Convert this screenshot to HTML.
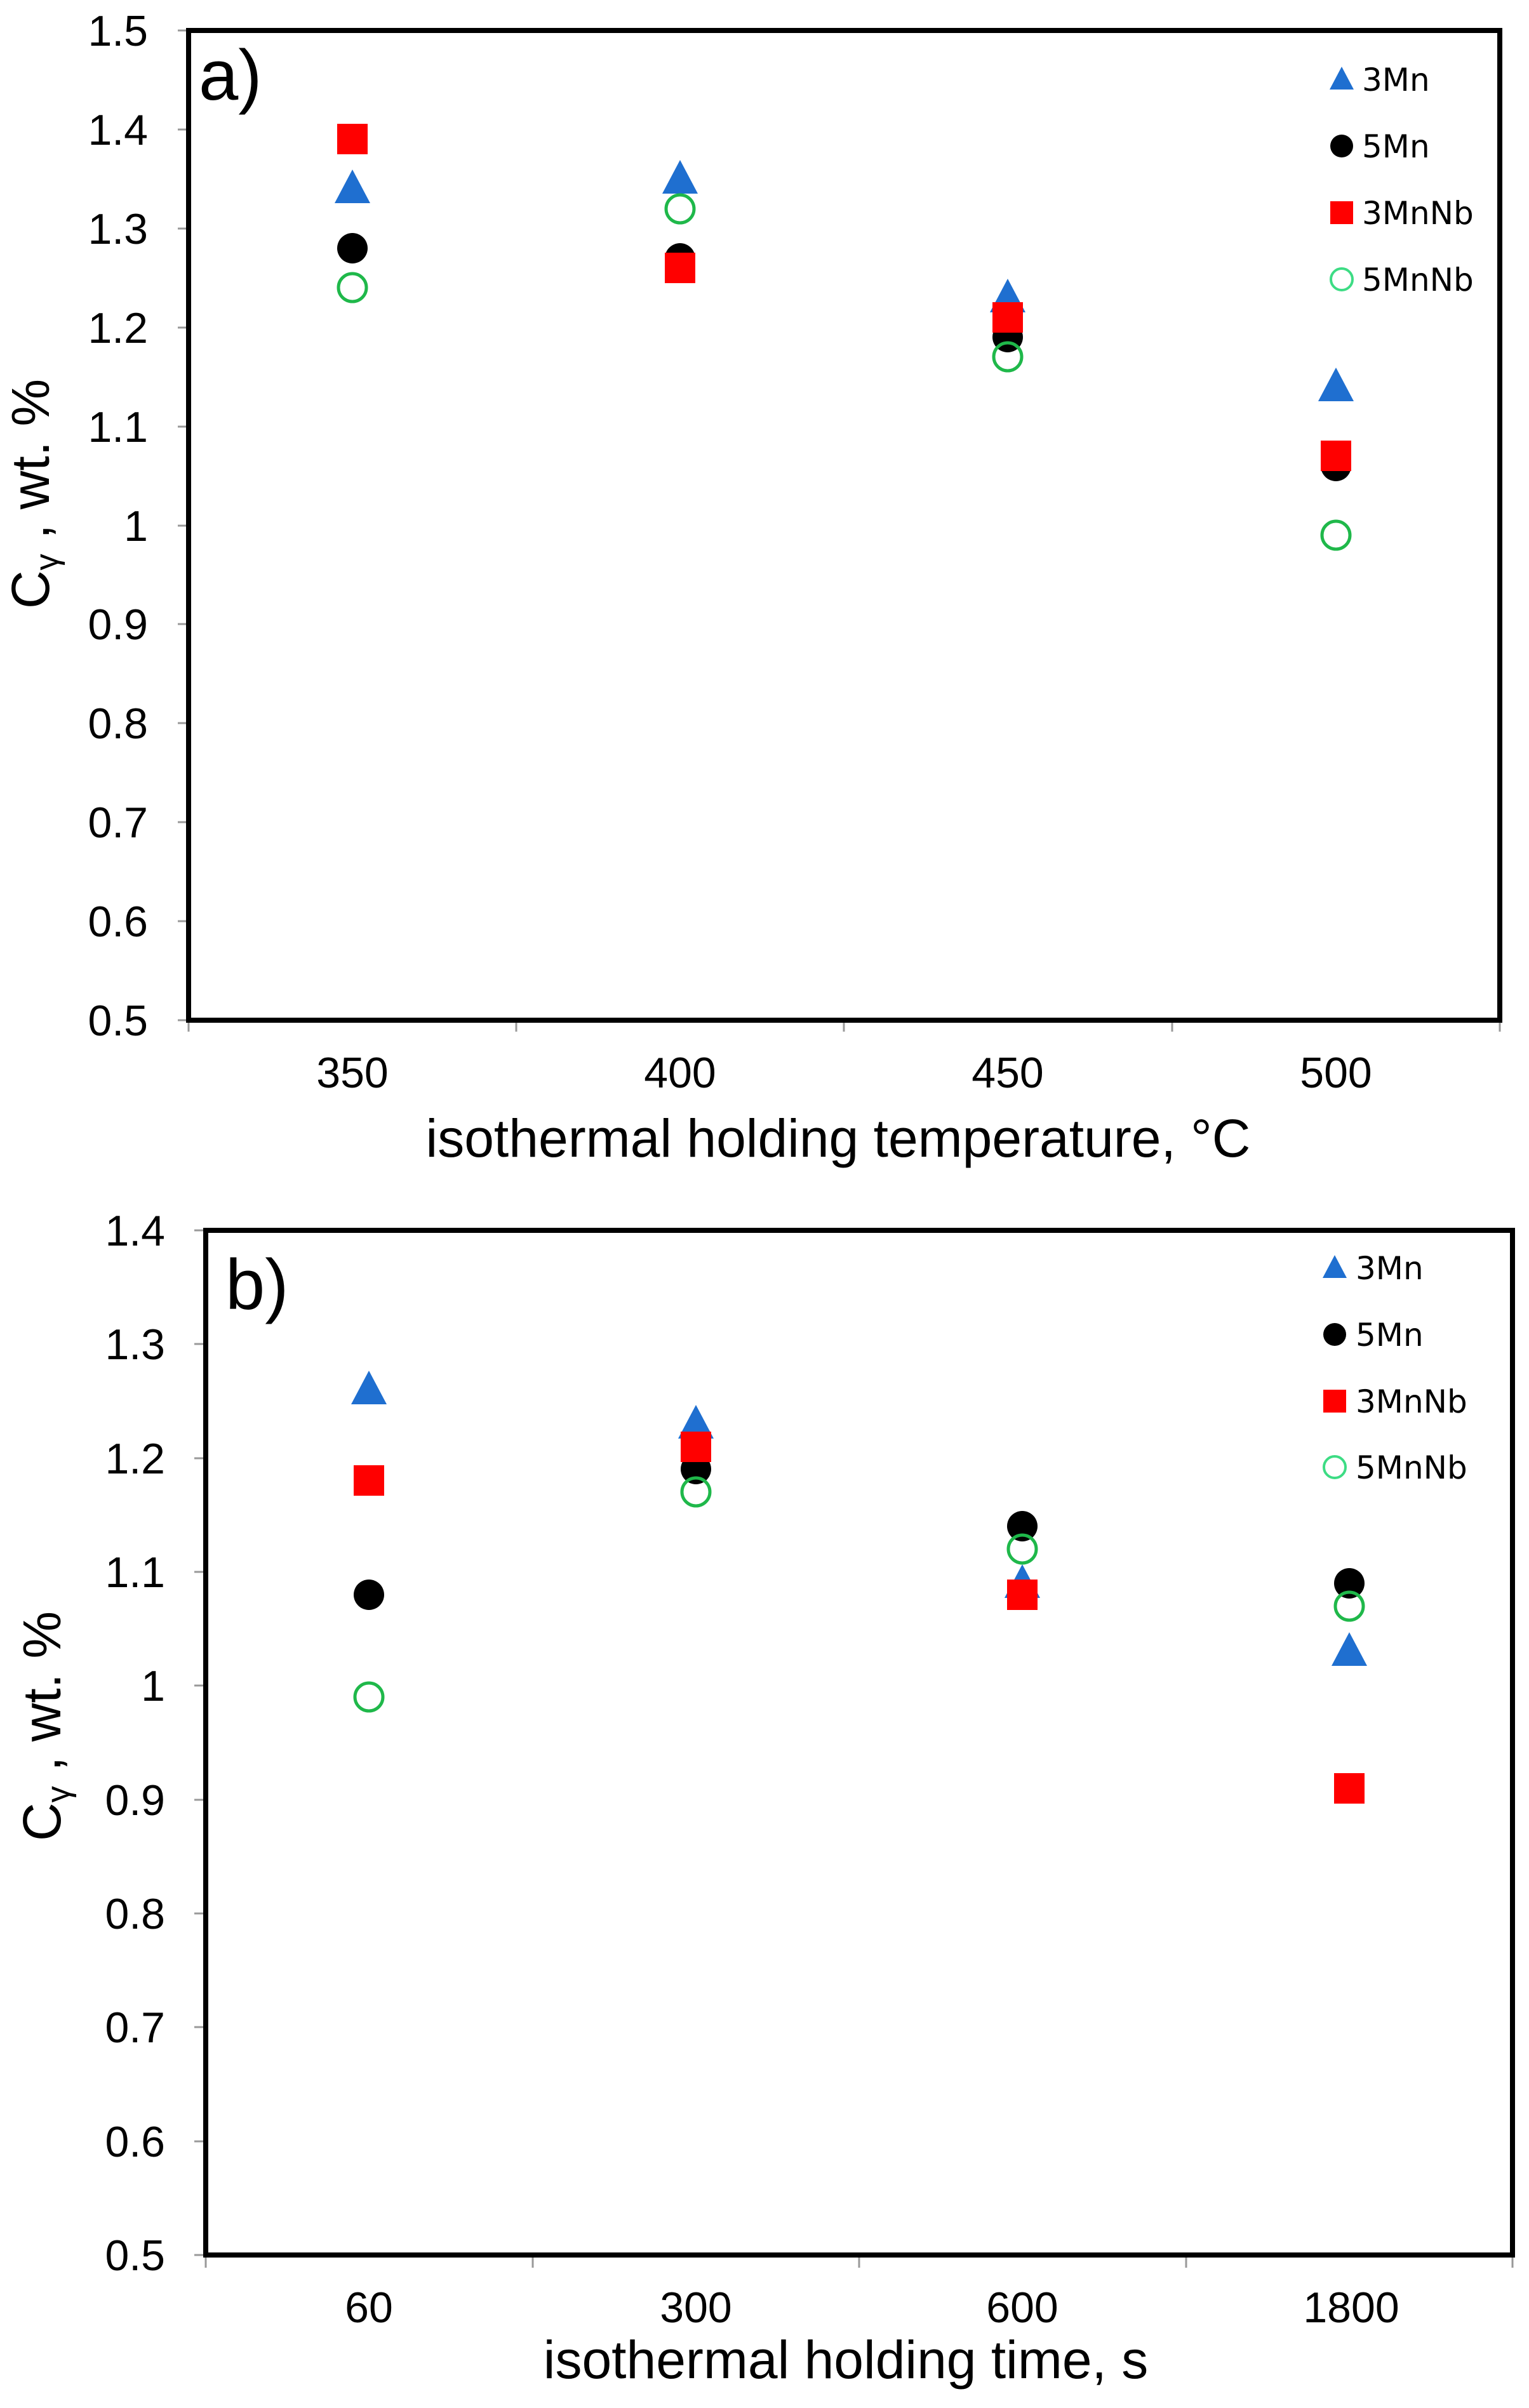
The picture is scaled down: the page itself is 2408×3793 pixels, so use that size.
<!DOCTYPE html>
<html><head><meta charset="utf-8"><style>
html,body{margin:0;padding:0;background:#fff;}
svg{display:block;}
text{font-family:"Liberation Sans",Arial,sans-serif;fill:#000;}
.t{font-size:68px;}
.ti{font-size:84px;}
.lg{font-size:50px;font-family:"DejaVu Sans","Liberation Sans",sans-serif;}
</style></head><body>
<svg width="2408" height="3793" viewBox="0 0 2408 3793" xmlns="http://www.w3.org/2000/svg">
<rect width="2408" height="3793" fill="#fff"/>
<defs>
<path id="tri" d="M0,-30 L28,23 L-28,23 Z" fill="#1f6fd0"/>
<circle id="cir" r="24" fill="#000"/>
<rect id="sq" x="-24" y="-24" width="48" height="48" fill="#ff0000"/>
<circle id="oc" r="22" fill="none" stroke="#1fb84a" stroke-width="5"/>
<path id="ltri" d="M0,-20 L19,16 L-19,16 Z" fill="#1f6fd0"/>
<circle id="lcir" r="18" fill="#000"/>
<rect id="lsq" x="-18" y="-18" width="36" height="36" fill="#ff0000"/>
<circle id="loc" r="17" fill="none" stroke="#3ddc84" stroke-width="4"/>
</defs>

<!-- ===== Chart a ===== -->
<g stroke="#999" stroke-width="3">
<line x1="280" y1="48" x2="297" y2="48"/><line x1="280" y1="204" x2="297" y2="204"/>
<line x1="280" y1="360" x2="297" y2="360"/><line x1="280" y1="516" x2="297" y2="516"/>
<line x1="280" y1="672" x2="297" y2="672"/><line x1="280" y1="828" x2="297" y2="828"/>
<line x1="280" y1="983" x2="297" y2="983"/><line x1="280" y1="1139" x2="297" y2="1139"/>
<line x1="280" y1="1295" x2="297" y2="1295"/><line x1="280" y1="1451" x2="297" y2="1451"/>
<line x1="280" y1="1607" x2="297" y2="1607"/>
<line x1="297" y1="1607" x2="297" y2="1625"/><line x1="813" y1="1607" x2="813" y2="1625"/>
<line x1="1329" y1="1607" x2="1329" y2="1625"/><line x1="1846" y1="1607" x2="1846" y2="1625"/>
<line x1="2362" y1="1607" x2="2362" y2="1625"/>
</g>
<rect x="297" y="48" width="2065" height="1559" fill="none" stroke="#000" stroke-width="8"/>
<g class="t" text-anchor="end">
<text x="233" y="72">1.5</text><text x="233" y="228">1.4</text><text x="233" y="384">1.3</text>
<text x="233" y="540">1.2</text><text x="233" y="696">1.1</text><text x="233" y="852">1</text>
<text x="233" y="1007">0.9</text><text x="233" y="1163">0.8</text><text x="233" y="1319">0.7</text>
<text x="233" y="1475">0.6</text><text x="233" y="1631">0.5</text>
</g>
<g class="t" text-anchor="middle">
<text x="555" y="1713">350</text><text x="1071" y="1713">400</text>
<text x="1587" y="1713">450</text><text x="2104" y="1713">500</text>
</g>
<text class="ti" x="1320" y="1822" text-anchor="middle">isothermal holding temperature, °C</text>
<text class="ti" transform="translate(77,778) rotate(-90)" text-anchor="middle">C<tspan font-size="52" dy="14">γ</tspan><tspan dy="-14"> , wt. %</tspan></text>
<text x="313" y="157" font-size="112">a)</text>
<!-- legend a -->
<use href="#ltri" x="2113" y="125"/><text class="lg" x="2145" y="143">3Mn</text>
<use href="#lcir" x="2113" y="230"/><text class="lg" x="2145" y="248">5Mn</text>
<use href="#lsq" x="2113" y="335"/><text class="lg" x="2145" y="353">3MnNb</text>
<use href="#loc" x="2113" y="440"/><text class="lg" x="2145" y="458">5MnNb</text>
<!-- data a -->
<use href="#tri" x="555" y="297"/><use href="#cir" x="555" y="391"/><use href="#sq" x="555" y="219"/><use href="#oc" x="555" y="453"/>
<use href="#tri" x="1071" y="282"/><use href="#cir" x="1071" y="407"/><use href="#sq" x="1071" y="422"/><use href="#oc" x="1071" y="329"/>
<use href="#tri" x="1587" y="469"/><use href="#cir" x="1587" y="531"/><use href="#sq" x="1587" y="500"/><use href="#oc" x="1587" y="562"/>
<use href="#tri" x="2104" y="609"/><use href="#cir" x="2104" y="734"/><use href="#sq" x="2104" y="718"/><use href="#oc" x="2104" y="843"/>

<!-- ===== Chart b ===== -->
<g stroke="#999" stroke-width="3">
<line x1="306" y1="1938" x2="324" y2="1938"/><line x1="306" y1="2117" x2="324" y2="2117"/>
<line x1="306" y1="2297" x2="324" y2="2297"/><line x1="306" y1="2476" x2="324" y2="2476"/>
<line x1="306" y1="2655" x2="324" y2="2655"/><line x1="306" y1="2835" x2="324" y2="2835"/>
<line x1="306" y1="3014" x2="324" y2="3014"/><line x1="306" y1="3193" x2="324" y2="3193"/>
<line x1="306" y1="3373" x2="324" y2="3373"/><line x1="306" y1="3552" x2="324" y2="3552"/>
<line x1="324" y1="3552" x2="324" y2="3572"/><line x1="839" y1="3552" x2="839" y2="3572"/>
<line x1="1353" y1="3552" x2="1353" y2="3572"/><line x1="1868" y1="3552" x2="1868" y2="3572"/>
<line x1="2382" y1="3552" x2="2382" y2="3572"/>
</g>
<rect x="324" y="1938" width="2058" height="1614" fill="none" stroke="#000" stroke-width="8"/>
<g class="t" text-anchor="end">
<text x="260" y="1962">1.4</text><text x="260" y="2141">1.3</text><text x="260" y="2321">1.2</text>
<text x="260" y="2500">1.1</text><text x="260" y="2679">1</text><text x="260" y="2859">0.9</text>
<text x="260" y="3038">0.8</text><text x="260" y="3217">0.7</text><text x="260" y="3397">0.6</text>
<text x="260" y="3576">0.5</text>
</g>
<g class="t" text-anchor="middle">
<text x="581" y="3658">60</text><text x="1096" y="3658">300</text>
<text x="1610" y="3658">600</text><text x="2128" y="3658">1800</text>
</g>
<text class="ti" x="1332" y="3746" text-anchor="middle">isothermal holding time, s</text>
<text class="ti" transform="translate(95,2719) rotate(-90)" text-anchor="middle">C<tspan font-size="52" dy="14">γ</tspan><tspan dy="-14"> , wt. %</tspan></text>
<text x="355" y="2062" font-size="112">b)</text>
<!-- legend b -->
<use href="#ltri" x="2102" y="1997"/><text class="lg" x="2135" y="2015">3Mn</text>
<use href="#lcir" x="2102" y="2102"/><text class="lg" x="2135" y="2120">5Mn</text>
<use href="#lsq" x="2102" y="2207"/><text class="lg" x="2135" y="2225">3MnNb</text>
<use href="#loc" x="2102" y="2311"/><text class="lg" x="2135" y="2329">5MnNb</text>
<!-- data b -->
<use href="#tri" x="581" y="2189"/><use href="#cir" x="581" y="2512"/><use href="#sq" x="581" y="2332"/><use href="#oc" x="581" y="2673"/>
<use href="#tri" x="1096" y="2243"/><use href="#cir" x="1096" y="2314"/><use href="#sq" x="1096" y="2279"/><use href="#oc" x="1096" y="2350"/>
<use href="#tri" x="1610" y="2494"/><use href="#cir" x="1610" y="2404"/><use href="#sq" x="1610" y="2512"/><use href="#oc" x="1610" y="2440"/>
<use href="#tri" x="2125" y="2601"/><use href="#cir" x="2125" y="2494"/><use href="#sq" x="2125" y="2817"/><use href="#oc" x="2125" y="2530"/>
</svg>
</body></html>
